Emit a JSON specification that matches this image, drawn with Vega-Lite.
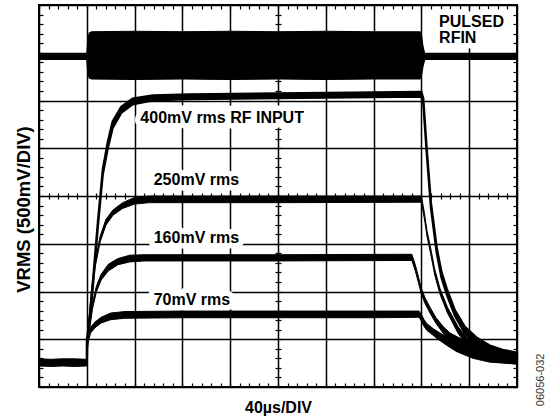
{
  "$schema": "https://vega.github.io/schema/vega-lite/v6.json",
  "width": 478,
  "height": 382,
  "autosize": {"type": "none"},
  "padding": {"left": 39, "top": 5, "right": 34, "bottom": 31},
  "background": "white",
  "config": {
    "view": {"stroke": "black", "strokeWidth": 2},
    "axis": {"labels": false, "domain": false, "tickColor": "black", "tickWidth": 1.2}
  },
  "datasets": {
    "traces": [
      {"s": "base", "t": 0, "lo": 0.44, "hi": 0.59},
      {"s": "base", "t": 0.25, "lo": 0.43, "hi": 0.58},
      {"s": "base", "t": 0.5, "lo": 0.44, "hi": 0.59},
      {"s": "base", "t": 0.75, "lo": 0.43, "hi": 0.59},
      {"s": "base", "t": 0.99, "lo": 0.44, "hi": 0.58},
      {"s": "base", "t": 1.0, "lo": 0.44, "hi": 0.62},

      {"s": "rfin", "t": 0, "lo": 6.86, "hi": 6.97},
      {"s": "rfin", "t": 0.5, "lo": 6.86, "hi": 6.97},
      {"s": "rfin", "t": 1.0, "lo": 6.86, "hi": 6.97},
      {"s": "rfin", "t": 1.02, "lo": 6.6, "hi": 7.25},
      {"s": "rfin", "t": 1.05, "lo": 6.47, "hi": 7.41},
      {"s": "rfin", "t": 1.1, "lo": 6.45, "hi": 7.44},
      {"s": "rfin", "t": 2, "lo": 6.44, "hi": 7.45},
      {"s": "rfin", "t": 3, "lo": 6.45, "hi": 7.44},
      {"s": "rfin", "t": 4, "lo": 6.44, "hi": 7.45},
      {"s": "rfin", "t": 5, "lo": 6.45, "hi": 7.44},
      {"s": "rfin", "t": 6, "lo": 6.44, "hi": 7.45},
      {"s": "rfin", "t": 7, "lo": 6.45, "hi": 7.44},
      {"s": "rfin", "t": 7.97, "lo": 6.45, "hi": 7.44},
      {"s": "rfin", "t": 8.0, "lo": 6.52, "hi": 7.38},
      {"s": "rfin", "t": 8.03, "lo": 6.7, "hi": 7.15},
      {"s": "rfin", "t": 8.07, "lo": 6.86, "hi": 6.97},
      {"s": "rfin", "t": 9, "lo": 6.86, "hi": 6.97},
      {"s": "rfin", "t": 10, "lo": 6.86, "hi": 6.97},

      {"s": "70mV", "t": 1.0, "lo": 0.5, "hi": 1.0},
      {"s": "70mV", "t": 1.02, "lo": 0.92, "hi": 1.04},
      {"s": "70mV", "t": 1.05, "lo": 1.02, "hi": 1.14},
      {"s": "70mV", "t": 1.08, "lo": 1.13, "hi": 1.25},
      {"s": "70mV", "t": 1.17, "lo": 1.24, "hi": 1.36},
      {"s": "70mV", "t": 1.3, "lo": 1.34, "hi": 1.46},
      {"s": "70mV", "t": 1.5, "lo": 1.41, "hi": 1.55},
      {"s": "70mV", "t": 1.8, "lo": 1.44, "hi": 1.58},
      {"s": "70mV", "t": 3, "lo": 1.45, "hi": 1.59},
      {"s": "70mV", "t": 5, "lo": 1.45, "hi": 1.59},
      {"s": "70mV", "t": 7, "lo": 1.45, "hi": 1.59},
      {"s": "70mV", "t": 7.95, "lo": 1.46, "hi": 1.59},
      {"s": "70mV", "t": 8.0, "lo": 1.38, "hi": 1.52},
      {"s": "70mV", "t": 8.05, "lo": 1.28, "hi": 1.42},
      {"s": "70mV", "t": 8.11, "lo": 1.19, "hi": 1.33},
      {"s": "70mV", "t": 8.25, "lo": 1.08, "hi": 1.22},
      {"s": "70mV", "t": 8.39, "lo": 0.97, "hi": 1.13},
      {"s": "70mV", "t": 8.55, "lo": 0.86, "hi": 1.04},
      {"s": "70mV", "t": 8.74, "lo": 0.74, "hi": 0.94},
      {"s": "70mV", "t": 9.08, "lo": 0.6, "hi": 0.82},
      {"s": "70mV", "t": 9.43, "lo": 0.52, "hi": 0.74},
      {"s": "70mV", "t": 10, "lo": 0.48, "hi": 0.68},

      {"s": "160mV", "t": 1.0, "lo": 0.5, "hi": 1.0},
      {"s": "160mV", "t": 1.02, "lo": 0.92, "hi": 1.04},
      {"s": "160mV", "t": 1.05, "lo": 1.15, "hi": 1.27},
      {"s": "160mV", "t": 1.12, "lo": 1.64, "hi": 1.76},
      {"s": "160mV", "t": 1.2, "lo": 1.99, "hi": 2.11},
      {"s": "160mV", "t": 1.3, "lo": 2.24, "hi": 2.36},
      {"s": "160mV", "t": 1.45, "lo": 2.43, "hi": 2.57},
      {"s": "160mV", "t": 1.65, "lo": 2.56, "hi": 2.69},
      {"s": "160mV", "t": 1.9, "lo": 2.62, "hi": 2.76},
      {"s": "160mV", "t": 2.2, "lo": 2.64, "hi": 2.77},
      {"s": "160mV", "t": 5, "lo": 2.64, "hi": 2.77},
      {"s": "160mV", "t": 7.8, "lo": 2.65, "hi": 2.78},
      {"s": "160mV", "t": 7.87, "lo": 2.44, "hi": 2.57},
      {"s": "160mV", "t": 7.95, "lo": 2.14, "hi": 2.26},
      {"s": "160mV", "t": 8.0, "lo": 1.94, "hi": 2.06},
      {"s": "160mV", "t": 8.08, "lo": 1.74, "hi": 1.86},
      {"s": "160mV", "t": 8.18, "lo": 1.55, "hi": 1.67},
      {"s": "160mV", "t": 8.3, "lo": 1.34, "hi": 1.46},
      {"s": "160mV", "t": 8.46, "lo": 1.12, "hi": 1.26},
      {"s": "160mV", "t": 8.6, "lo": 0.97, "hi": 1.13},
      {"s": "160mV", "t": 8.81, "lo": 0.82, "hi": 1.02},
      {"s": "160mV", "t": 9.23, "lo": 0.6, "hi": 0.82},
      {"s": "160mV", "t": 9.6, "lo": 0.52, "hi": 0.74},
      {"s": "160mV", "t": 10, "lo": 0.48, "hi": 0.68},

      {"s": "250mV", "t": 1.0, "lo": 0.5, "hi": 1.0},
      {"s": "250mV", "t": 1.02, "lo": 0.95, "hi": 1.1},
      {"s": "250mV", "t": 1.04, "lo": 1.25, "hi": 1.37},
      {"s": "250mV", "t": 1.1, "lo": 1.94, "hi": 2.06},
      {"s": "250mV", "t": 1.18, "lo": 2.54, "hi": 2.66},
      {"s": "250mV", "t": 1.28, "lo": 3.04, "hi": 3.16},
      {"s": "250mV", "t": 1.4, "lo": 3.39, "hi": 3.51},
      {"s": "250mV", "t": 1.55, "lo": 3.6, "hi": 3.71},
      {"s": "250mV", "t": 1.75, "lo": 3.74, "hi": 3.86},
      {"s": "250mV", "t": 2.0, "lo": 3.83, "hi": 3.97},
      {"s": "250mV", "t": 2.3, "lo": 3.86, "hi": 4.0},
      {"s": "250mV", "t": 5, "lo": 3.86, "hi": 4.0},
      {"s": "250mV", "t": 8.0, "lo": 3.87, "hi": 4.0},
      {"s": "250mV", "t": 8.06, "lo": 3.54, "hi": 3.66},
      {"s": "250mV", "t": 8.12, "lo": 3.14, "hi": 3.26},
      {"s": "250mV", "t": 8.19, "lo": 2.81, "hi": 2.93},
      {"s": "250mV", "t": 8.28, "lo": 2.34, "hi": 2.46},
      {"s": "250mV", "t": 8.39, "lo": 1.94, "hi": 2.06},
      {"s": "250mV", "t": 8.55, "lo": 1.54, "hi": 1.66},
      {"s": "250mV", "t": 8.77, "lo": 1.12, "hi": 1.26},
      {"s": "250mV", "t": 8.95, "lo": 0.87, "hi": 1.03},
      {"s": "250mV", "t": 9.16, "lo": 0.67, "hi": 0.87},
      {"s": "250mV", "t": 9.5, "lo": 0.55, "hi": 0.77},
      {"s": "250mV", "t": 10, "lo": 0.5, "hi": 0.7},

      {"s": "400mV", "t": 1.0, "lo": 0.5, "hi": 1.0},
      {"s": "400mV", "t": 1.01, "lo": 0.9, "hi": 1.05},
      {"s": "400mV", "t": 1.07, "lo": 1.45, "hi": 1.57},
      {"s": "400mV", "t": 1.126, "lo": 2.08, "hi": 2.2},
      {"s": "400mV", "t": 1.23, "lo": 3.33, "hi": 3.45},
      {"s": "400mV", "t": 1.335, "lo": 4.45, "hi": 4.57},
      {"s": "400mV", "t": 1.44, "lo": 5.0, "hi": 5.14},
      {"s": "400mV", "t": 1.54, "lo": 5.42, "hi": 5.56},
      {"s": "400mV", "t": 1.72, "lo": 5.74, "hi": 5.87},
      {"s": "400mV", "t": 1.96, "lo": 5.92, "hi": 6.04},
      {"s": "400mV", "t": 2.38, "lo": 6.0, "hi": 6.11},
      {"s": "400mV", "t": 3.15, "lo": 6.03, "hi": 6.13},
      {"s": "400mV", "t": 5.0, "lo": 6.05, "hi": 6.15},
      {"s": "400mV", "t": 8.0, "lo": 6.08, "hi": 6.18},
      {"s": "400mV", "t": 8.04, "lo": 5.93, "hi": 6.05},
      {"s": "400mV", "t": 8.11, "lo": 4.9, "hi": 5.02},
      {"s": "400mV", "t": 8.2, "lo": 3.74, "hi": 3.86},
      {"s": "400mV", "t": 8.32, "lo": 2.81, "hi": 2.93},
      {"s": "400mV", "t": 8.42, "lo": 2.29, "hi": 2.41},
      {"s": "400mV", "t": 8.53, "lo": 1.94, "hi": 2.06},
      {"s": "400mV", "t": 8.7, "lo": 1.49, "hi": 1.61},
      {"s": "400mV", "t": 8.91, "lo": 1.12, "hi": 1.26},
      {"s": "400mV", "t": 9.15, "lo": 0.86, "hi": 1.04},
      {"s": "400mV", "t": 9.43, "lo": 0.67, "hi": 0.87},
      {"s": "400mV", "t": 9.7, "lo": 0.58, "hi": 0.78},
      {"s": "400mV", "t": 10, "lo": 0.53, "hi": 0.72}
    ],
    "labels": [
      {"label": ["PULSED", "RFIN"], "t": 8.37, "v": 7.53},
      {"label": "400mV rms RF INPUT", "t": 2.12, "v": 5.53},
      {"label": "250mV rms", "t": 2.4, "v": 4.23},
      {"label": "160mV rms", "t": 2.4, "v": 3.02},
      {"label": "70mV rms", "t": 2.4, "v": 1.72}
    ],
    "note": [
      {"label": "06056-032", "t": 10.5, "v": 0.15}
    ]
  },
  "resolve": {"axis": {"x": "independent", "y": "independent"}},
  "layer": [
    {
      "data": {"name": "labels"},
      "mark": {"type": "text", "font": "Liberation Sans", "fontWeight": "bold", "fontSize": 16, "lineHeight": 16, "align": "left", "baseline": "alphabetic", "color": "white", "stroke": "white", "strokeWidth": 11, "strokeJoin": "round"},
      "encoding": {
        "x": {"field": "t", "type": "quantitative", "scale": {"domain": [0, 10], "nice": false, "zero": false},
          "axis": {"orient": "bottom", "values": [0,0.2,0.4,0.6,0.8,1,1.2,1.4,1.6,1.8,2,2.2,2.4,2.6,2.8,3,3.2,3.4,3.6,3.8,4,4.2,4.4,4.6,4.8,5,5.2,5.4,5.6,5.8,6,6.2,6.4,6.6,6.8,7,7.2,7.4,7.6,7.8,8,8.2,8.4,8.6,8.8,9,9.2,9.4,9.6,9.8,10],
            "grid": true, "gridColor": "black", "gridWidth": 1.5,
            "gridOpacity": {"condition": {"test": "abs(datum.value - round(datum.value)) < 0.01", "value": 1}, "value": 0},
            "tickSize": -4,
            "title": "40µs/DIV", "titleFont": "Liberation Sans", "titleFontSize": 16, "titleFontWeight": "bold", "titleColor": "black",
            "titleX": 239, "titleY": 25, "titleAlign": "center", "titleBaseline": "alphabetic", "titleAngle": 0}},
        "y": {"field": "v", "type": "quantitative", "scale": {"domain": [0, 8], "nice": false, "zero": false},
          "axis": {"orient": "left", "values": [0,0.2,0.4,0.6,0.8,1,1.2,1.4,1.6,1.8,2,2.2,2.4,2.6,2.8,3,3.2,3.4,3.6,3.8,4,4.2,4.4,4.6,4.8,5,5.2,5.4,5.6,5.8,6,6.2,6.4,6.6,6.8,7,7.2,7.4,7.6,7.8,8],
            "grid": true, "gridColor": "black", "gridWidth": 1.5,
            "gridOpacity": {"condition": {"test": "abs(datum.value - round(datum.value)) < 0.01", "value": 1}, "value": 0},
            "tickSize": -4,
            "title": "VRMS (500mV/DIV)", "titleFont": "Liberation Sans", "titleFontSize": 18.5, "titleFontWeight": "bold", "titleColor": "black",
            "titleX": -10, "titleY": 204, "titleAlign": "center", "titleBaseline": "alphabetic", "titleAngle": 270}},
        "text": {"field": "label"}
      }
    },
    {
      "data": {"name": "traces"},
      "transform": [{"filter": "datum.s == 'rfin'"}],
      "mark": {"type": "area", "color": "black", "stroke": "black", "strokeWidth": 1.2, "opacity": 1},
      "encoding": {
        "x": {"field": "t", "type": "quantitative", "scale": {"domain": [0, 10], "nice": false, "zero": false},
          "axis": {"orient": "top", "values": [0,0.2,0.4,0.6,0.8,1,1.2,1.4,1.6,1.8,2,2.2,2.4,2.6,2.8,3,3.2,3.4,3.6,3.8,4,4.2,4.4,4.6,4.8,5,5.2,5.4,5.6,5.8,6,6.2,6.4,6.6,6.8,7,7.2,7.4,7.6,7.8,8,8.2,8.4,8.6,8.8,9,9.2,9.4,9.6,9.8,10],
            "grid": false, "tickSize": -4, "title": null}},
        "y": {"field": "hi", "type": "quantitative", "scale": {"domain": [0, 8], "nice": false, "zero": false},
          "axis": {"orient": "right", "values": [0,0.2,0.4,0.6,0.8,1,1.2,1.4,1.6,1.8,2,2.2,2.4,2.6,2.8,3,3.2,3.4,3.6,3.8,4,4.2,4.4,4.6,4.8,5,5.2,5.4,5.6,5.8,6,6.2,6.4,6.6,6.8,7,7.2,7.4,7.6,7.8,8],
            "grid": false, "tickSize": -4, "title": null}},
        "y2": {"field": "lo"},
        "detail": {"field": "s"}
      }
    },
    {
      "data": {"name": "traces"},
      "transform": [{"filter": "datum.s != 'rfin' && datum.s != '400mV'"}],
      "mark": {"type": "area", "color": "black", "stroke": "black", "strokeWidth": 1, "opacity": 1},
      "encoding": {
        "x": {"field": "t", "type": "quantitative", "scale": {"domain": [0, 10], "nice": false, "zero": false},
          "axis": {"orient": "bottom", "offset": -194, "values": [0,0.2,0.4,0.6,0.8,1,1.2,1.4,1.6,1.8,2,2.2,2.4,2.6,2.8,3,3.2,3.4,3.6,3.8,4,4.2,4.4,4.6,4.8,5,5.2,5.4,5.6,5.8,6,6.2,6.4,6.6,6.8,7,7.2,7.4,7.6,7.8,8,8.2,8.4,8.6,8.8,9,9.2,9.4,9.6,9.8,10],
            "grid": false, "tickSize": 6, "title": null}},
        "y": {"field": "hi", "type": "quantitative", "scale": {"domain": [0, 8], "nice": false, "zero": false},
          "axis": {"orient": "left", "offset": -242, "values": [0,0.2,0.4,0.6,0.8,1,1.2,1.4,1.6,1.8,2,2.2,2.4,2.6,2.8,3,3.2,3.4,3.6,3.8,4,4.2,4.4,4.6,4.8,5,5.2,5.4,5.6,5.8,6,6.2,6.4,6.6,6.8,7,7.2,7.4,7.6,7.8,8],
            "grid": false, "tickSize": 6, "title": null}},
        "y2": {"field": "lo"},
        "detail": {"field": "s"}
      }
    },
    {
      "data": {"name": "traces"},
      "transform": [{"filter": "datum.s == '400mV'"}],
      "mark": {"type": "area", "color": "black", "stroke": "black", "strokeWidth": 2.2, "opacity": 1},
      "encoding": {
        "x": {"field": "t", "type": "quantitative", "scale": {"domain": [0, 10], "nice": false, "zero": false}, "axis": null},
        "y": {"field": "hi", "type": "quantitative", "scale": {"domain": [0, 8], "nice": false, "zero": false}, "axis": null},
        "y2": {"field": "lo"},
        "detail": {"field": "s"}
      }
    },
    {
      "data": {"name": "labels"},
      "mark": {"type": "text", "font": "Liberation Sans", "fontWeight": "bold", "fontSize": 16, "lineHeight": 16, "align": "left", "baseline": "alphabetic", "color": "black"},
      "encoding": {
        "x": {"field": "t", "type": "quantitative", "scale": {"domain": [0, 10], "nice": false, "zero": false}, "axis": null},
        "y": {"field": "v", "type": "quantitative", "scale": {"domain": [0, 8], "nice": false, "zero": false}, "axis": null},
        "text": {"field": "label"}
      }
    },
    {
      "data": {"name": "note"},
      "mark": {"type": "text", "font": "Liberation Sans", "fontSize": 11, "align": "center", "baseline": "middle", "angle": 270, "color": "#333333"},
      "encoding": {
        "x": {"field": "t", "type": "quantitative", "scale": {"domain": [0, 10], "nice": false, "zero": false}, "axis": null},
        "y": {"field": "v", "type": "quantitative", "scale": {"domain": [0, 8], "nice": false, "zero": false}, "axis": null},
        "text": {"field": "label"}
      }
    }
  ]
}
